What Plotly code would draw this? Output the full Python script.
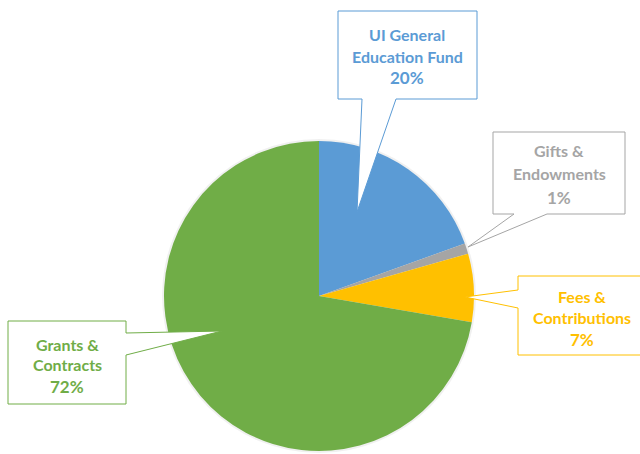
import plotly.graph_objects as go

# Data
categories = ["UI General Education Fund", "Gifts & Endowments", "Fees & Contributions", "Grants & Contracts"]
values = [19.5, 1.1, 7.1, 72.3]
pct_labels = ["20%", "1%", "7%", "72%"]
label_lines = [["UI General", "Education Fund"], ["Gifts &", "Endowments"], ["Fees &", "Contributions"], ["Grants &", "Contracts"]]
colors = ["#5B9BD5", "#A5A5A5", "#FFC000", "#70AD47"]

W, H = 640, 454
cx, cy, r = 319, 296, 155

# callout boxes (pixel layout): box x0,x1,y0,y1 ; wedge base points and tip
callouts = [
    dict(box=(338, 477, 11, 99), side="bottom", base=(362, 396), tip=(357, 212), tx=407, ty=(34, 55.5, 76.5)),
    dict(box=(493, 625, 132, 214), side="bottom", base=(514, 547), tip=(468, 247), tx=559, ty=(150, 173, 197)),
    dict(box=(518, 642, 276, 355), side="left", base=(290, 308), tip=(465, 297), tx=582, ty=(296, 317, 338.5)),
    dict(box=(8, 126, 321, 404), side="right", base=(333, 355), tip=(222, 331), tx=67, ty=(343.5, 364, 386)),
]

fig = go.Figure()
# soft shadow
fig.add_trace(go.Pie(
    values=[1], marker=dict(colors=["rgba(0,0,0,0.06)"], line=dict(width=0)),
    textinfo="none", hoverinfo="skip", showlegend=False, sort=False,
    domain=dict(x=[(cx - r - 2) / W, (cx + r + 2) / W], y=[(H - cy - r - 2) / H, (H - cy + r + 2) / H]),
))
fig.add_trace(go.Pie(
    labels=categories, values=values, sort=False, direction="clockwise", rotation=0,
    marker=dict(colors=colors, line=dict(width=0)),
    textinfo="none", showlegend=False,
    domain=dict(x=[(cx - r) / W, (cx + r) / W], y=[(H - cy - r) / H, (H - cy + r) / H]),
))

shapes = []
annotations = []
for i, c in enumerate(callouts):
    x0, x1, y0, y1 = c["box"]
    tx, ty = c["tip"]
    b0, b1 = c["base"]
    if c["side"] == "bottom":
        pts = [(x0, y0), (x1, y0), (x1, y1), (b1, y1), (tx, ty), (b0, y1), (x0, y1)]
    elif c["side"] == "left":
        pts = [(x0, y0), (x1, y0), (x1, y1), (x0, y1), (x0, b1), (tx, ty), (x0, b0)]
    else:
        pts = [(x0, y0), (x1, y0), (x1, b0), (tx, ty), (x1, b1), (x1, y1), (x0, y1)]
    path = "M " + " L ".join(f"{px},{py}" for px, py in pts) + " Z"
    shapes.append(dict(type="path", xref="x", yref="y", path=path, fillcolor="white",
                       line=dict(color=colors[i], width=1), layer="above"))
    lines = label_lines[i] + [pct_labels[i]]
    for j, txt in enumerate(lines):
        annotations.append(dict(x=c["tx"], y=c["ty"][j] + 0.5, xref="x", yref="y", text=f"<b>{txt}</b>",
                                showarrow=False, xanchor="center", yanchor="middle",
                                font=dict(family="Lato", size=16 if j < 2 else 17, color=colors[i])))

fig.update_layout(
    width=W, height=H, margin=dict(l=0, r=0, t=0, b=0),
    paper_bgcolor="white", plot_bgcolor="rgba(0,0,0,0)",
    xaxis=dict(range=[0, W], visible=False, fixedrange=True, domain=[0, 1]),
    yaxis=dict(range=[H, 0], visible=False, fixedrange=True, domain=[0, 1]),
    shapes=shapes, annotations=annotations, showlegend=False,
)
fig.write_html("out.html", config={"displayModeBar": False},
               post_script="document.body.style.margin='0';document.body.style.overflow='hidden';")
